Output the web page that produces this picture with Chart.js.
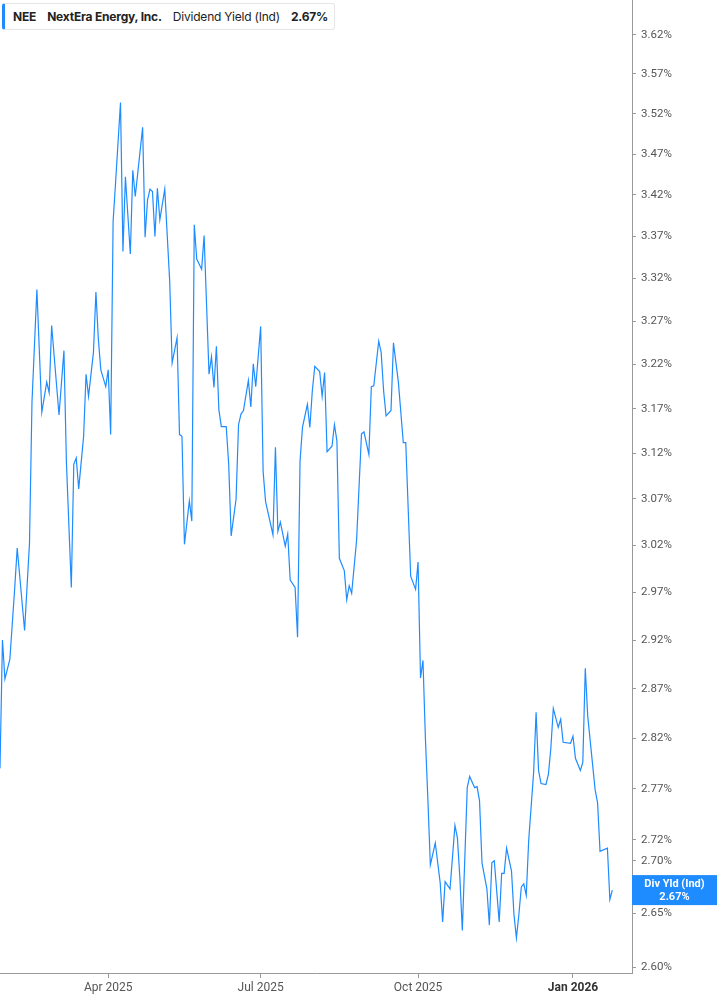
<!DOCTYPE html>
<html>
<head>
<meta charset="utf-8">
<script src="https://cdn.jsdelivr.net/npm/chart.js@4.4.1/dist/chart.umd.min.js"></script>
<style>
    body { margin: 0; background: #fff; }
    #wrap { position: relative; width: 717px; height: 1005px; }
    #legend {
        position: absolute; left: 2px; top: 3px; height: 27px; width: 333px;
        background: #fff; border: 1px solid #e6e6e6; border-left: 3px solid #1e8cff;
        border-radius: 3px; display: flex; align-items: center; gap: 11px;
        padding-left: 8px; font: 12px Inter, Roboto, sans-serif; color: #222;
        box-sizing: border-box; white-space: nowrap; letter-spacing: -0.2px;
    }
    #legend b { font-weight: 700; }
</style>
</head>
<body>
<div id="wrap">
    <canvas id="yieldChart"></canvas>
    <div id="legend">
        <b>NEE</b><b>NextEra Energy, Inc.</b><span>Dividend Yield (Ind)</span><b>2.67%</b>
    </div>
</div>
<script>
// trading-day number since the first point, and dividend yield (%) on that day
const tradingDay = [
    0, 1, 2, 4, 6, 7, 10, 12, 13, 15, 17, 19, 20, 21, 24, 26, 27, 29, 30, 31,
    32, 34, 35, 36, 38, 39, 40, 41, 43, 44, 45, 46, 47, 49, 50, 51, 53, 54, 55, 58,
    59, 60, 61, 62, 63, 64, 65, 67, 69, 70, 72, 73, 74, 75, 77, 78, 79, 80, 82, 83,
    85, 86, 87, 88, 89, 90, 92, 93, 94, 96, 97, 98, 99, 101, 102, 103, 104, 106, 107, 108,
    111, 112, 113, 114, 116, 117, 118, 120, 121, 122, 123, 125, 126, 127, 128, 130, 131, 132, 133, 135,
    136, 137, 138, 140, 141, 142, 143, 145, 147, 148, 150, 151, 152, 154, 155, 156, 157, 159, 160, 162,
    164, 165, 167, 169, 170, 171, 172, 173, 174, 175, 177, 179, 180, 181, 183, 185, 186, 187, 188, 190,
    191, 193, 194, 195, 196, 198, 199, 200, 201, 203, 204, 205, 206, 208, 209, 210, 211, 212, 213, 214,
    215, 217, 218, 219, 220, 222, 223, 224, 225, 227, 228, 229, 232, 233, 234, 236, 237, 238, 239, 242,
    243, 244, 247, 248, 249
];
const divYield = [
    2.79, 2.92, 2.88, 2.90, 2.975, 3.017, 2.93, 3.023, 3.177, 3.307, 3.166, 3.20, 3.188, 3.265, 3.163, 3.236, 3.111, 2.975, 3.108, 3.115,
    3.081, 3.139, 3.209, 3.184, 3.234, 3.304, 3.249, 3.214, 3.195, 3.214, 3.141, 3.388, 3.435, 3.534, 3.352, 3.442, 3.349, 3.45, 3.418, 3.503,
    3.369, 3.414, 3.427, 3.424, 3.37, 3.428, 3.39, 3.427, 3.317, 3.222, 3.251, 3.141, 3.139, 3.021, 3.068, 3.046, 3.384, 3.343, 3.331, 3.371,
    3.209, 3.229, 3.194, 3.241, 3.169, 3.15, 3.15, 3.108, 3.03, 3.07, 3.152, 3.164, 3.168, 3.202, 3.172, 3.221, 3.195, 3.264, 3.10, 3.067,
    3.031, 3.127, 3.035, 3.045, 3.019, 3.032, 2.983, 2.975, 2.923, 3.111, 3.149, 3.175, 3.149, 3.19, 3.218, 3.212, 3.184, 3.211, 3.122, 3.128,
    3.152, 3.134, 3.006, 2.993, 2.962, 2.977, 2.969, 3.025, 3.142, 3.144, 3.119, 3.195, 3.196, 3.247, 3.234, 3.19, 3.162, 3.168, 3.245, 3.20,
    3.132, 3.132, 2.987, 2.973, 3.002, 2.881, 2.899, 2.819, 2.759, 2.696, 2.717, 2.679, 2.642, 2.68, 2.673, 2.734, 2.722, 2.684, 2.634, 2.771,
    2.782, 2.771, 2.772, 2.758, 2.698, 2.673, 2.639, 2.698, 2.70, 2.642, 2.688, 2.688, 2.712, 2.69, 2.649, 2.627, 2.649, 2.675, 2.678, 2.667,
    2.72, 2.786, 2.846, 2.788, 2.775, 2.774, 2.784, 2.81, 2.85, 2.831, 2.839, 2.816, 2.815, 2.822, 2.80, 2.788, 2.796, 2.891, 2.842, 2.769,
    2.756, 2.709, 2.712, 2.663, 2.672
];

const monthTickDays = [44, 106, 170, 233];
const monthTickLabels = ['Apr 2025', 'Jul 2025', 'Oct 2025', 'Jan 2026'];
const yTicks = [2.60, 2.65, 2.70, 2.72, 2.77, 2.82, 2.87, 2.92, 2.97, 3.02, 3.07, 3.12,
    3.17, 3.22, 3.27, 3.32, 3.37, 3.42, 3.47, 3.52, 3.57, 3.62];
const lastLabel = ['Div Yld (Ind)', '2.67%'];

const blue = '#1e8cff';

const lastValueTag = {
    id: 'lastValueTag',
    afterDraw(chart) {
        const { ctx, chartArea, scales } = chart;
        const y = scales.y.getPixelForValue(divYield[divYield.length - 1]);
        const x0 = chartArea.right;
        const w = chart.width - x0;
        ctx.save();
        ctx.fillStyle = blue;
        ctx.fillRect(x0, y - 15, w, 30);
        ctx.fillStyle = '#fff';
        ctx.font = 'bold 11px Roboto, sans-serif';
        ctx.textAlign = 'center';
        ctx.textBaseline = 'middle';
        ctx.fillText(lastLabel[0], x0 + w / 2, y - 6);
        ctx.fillText(lastLabel[1], x0 + w / 2, y + 7);
        ctx.restore();
    }
};

const ctx = document.getElementById('yieldChart').getContext('2d');
new Chart(ctx, {
    type: 'line',
    data: {
        datasets: [{
            label: 'Dividend Yield (Ind)',
            data: tradingDay.map((d, i) => ({ x: d, y: divYield[i] })),
            borderColor: blue,
            borderWidth: 1.2,
            pointRadius: 0,
            tension: 0,
            fill: false
        }]
    },
    options: {
        responsive: true,
        maintainAspectRatio: false,
        animation: false,
        layout: { padding: 0 },
        plugins: { legend: { display: false }, tooltip: { enabled: false } },
        scales: {
            x: {
                type: 'linear',
                min: 0,
                max: 257,
                bounds: 'data',
                afterBuildTicks: s => { s.ticks = monthTickDays.map(v => ({ value: v })); },
                afterFit: s => { s.height = 32; s.paddingLeft = 0; s.paddingRight = 0; },
                grid: { drawOnChartArea: false, drawTicks: true, tickLength: 5, color: '#999' },
                border: { display: true, color: '#999' },
                ticks: {
                    autoSkip: false,
                    maxRotation: 0,
                    padding: 3,
                    color: c => c.index === 3 ? '#333' : '#555',
                    font: c => ({ family: 'Roboto', size: 12, weight: c.index === 3 ? 'bold' : 'normal' }),
                    callback: (v, i) => monthTickLabels[i]
                }
            },
            y: {
                type: 'logarithmic',
                position: 'right',
                min: 2.5945,
                max: 3.665,
                bounds: 'data',
                afterBuildTicks: s => { s.ticks = yTicks.map(v => ({ value: v })); },
                afterFit: s => { s.width = 85; s.paddingTop = 0; s.paddingBottom = 0; },
                grid: { drawOnChartArea: false, drawTicks: true, tickLength: 4, color: '#999' },
                border: { display: true, color: '#999' },
                ticks: {
                    autoSkip: false,
                    padding: 5,
                    color: '#555',
                    font: { family: 'Roboto', size: 11.5 },
                    callback: v => v.toFixed(2) + '%'
                }
            }
        }
    },
    plugins: [lastValueTag]
});
</script>
</body>
</html>
